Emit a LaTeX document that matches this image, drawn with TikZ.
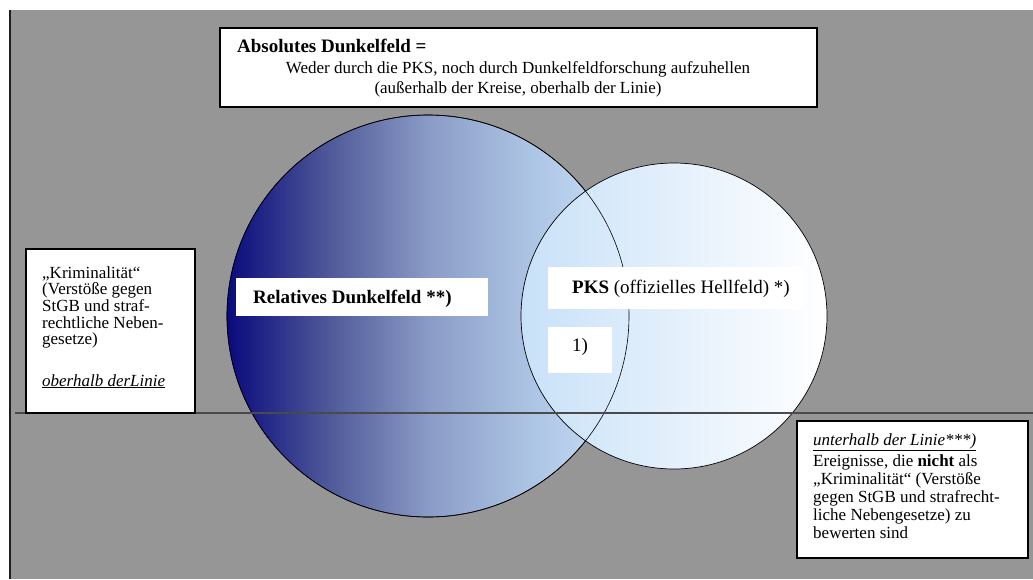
\documentclass[tikz,border=0pt]{standalone}
\usepackage{fontspec}
\setmainfont{Liberation Serif}
\definecolor{bggray}{HTML}{969696}
\definecolor{framecol}{HTML}{1E1E1E}
\definecolor{linecol}{HTML}{4A4A4A}
\definecolor{navyA}{RGB}{10,10,125}
\definecolor{navyB}{RGB}{78,88,152}
\definecolor{navyC}{RGB}{138,155,198}
\definecolor{navyD}{RGB}{172,196,228}
\definecolor{lightA}{RGB}{200,225,248}
\pgfdeclarehorizontalshading{bigshade}{100bp}{color(0bp)=(navyA); color(25bp)=(navyA); color(37.5bp)=(navyB); color(50bp)=(navyC); color(62.5bp)=(navyD); color(75bp)=(lightA); color(100bp)=(lightA)}
\tikzset{
  wbox/.style={draw=black, line width=1.2pt, fill=white, anchor=north west, inner sep=0, outer sep=0},
  lbox/.style={fill=white, anchor=north west, inner sep=0, outer sep=0},
  txt/.style={anchor=base west, inner sep=0, font=\fontsize{17}{20}\selectfont},
  ctxt/.style={anchor=base, inner sep=0, font=\fontsize{17}{20}\selectfont},
  head/.style={anchor=base west, inner sep=0, font=\fontsize{19}{22}\selectfont\bfseries},
  big/.style={anchor=base west, inner sep=0, font=\fontsize{19}{22}\selectfont},
}
\begin{document}
\begin{tikzpicture}[x=1pt,y=-1pt]
\useasboundingbox (0,0) rectangle (1033,579);
% background
\fill[white] (0,0) rectangle (1033,579);
\fill[bggray] (10,10) rectangle (1033,579);
\draw[framecol, line width=2pt] (10,10) -- (10,579);
% circles
\node[circle, draw=black, line width=0.7pt, minimum size=402pt, inner sep=0, outer sep=0, shade, shading=bigshade] (bigc) at (428,316) {};
\node[circle, draw=black, line width=0.7pt, minimum size=306pt, inner sep=0, outer sep=0, left color=lightA, right color=white] (smallc) at (674,316) {};
\draw[black, line width=0.6pt] (bigc.center) circle[radius=201pt];
% horizontal line
\coordinate (lineL) at (15,413);
\coordinate (lineR) at (1033,413);
\draw[linecol, line width=1.6pt] (lineL) -- (lineR);
% top box
\node[wbox, minimum width=597pt, minimum height=79pt] (topbox) at (220,28) {};
\node[head] (t1) at (237,52) {Absolutes Dunkelfeld =};
\node[ctxt] (t2) at (518,73) {Weder durch die PKS, noch durch Dunkelfeldforschung aufzuhellen};
\node[ctxt] (t3) at (518,93) {(außerhalb der Kreise, oberhalb der Linie)};
% left box
\node[wbox, minimum width=169pt, minimum height=164pt] (leftbox) at (26,249) {};
\node[txt] (l1) at (42,278) {„Kriminalität“};
\node[txt] (l2) at (42,294.7) {(Verstöße gegen};
\node[txt] (l3) at (42,311.4) {StGB und straf-};
\node[txt] (l4) at (42,328.1) {rechtliche Neben-};
\node[txt] (l5) at (42,344.8) {gesetze)};
\node[txt] (l6) at (42,386) {\itshape\underline{oberhalb derLinie}};
% right box
\node[wbox, minimum width=231pt, minimum height=137pt] (rightbox) at (797,421) {};
\node[txt] (r1) at (813,445) {\itshape\underline{unterhalb der Linie***)}};
\node[txt] (r2) at (813,466) {Ereignisse, die \textbf{nicht} als};
\node[txt] (r3) at (813,484) {„Kriminalität“ (Verstöße};
\node[txt] (r4) at (813,502) {gegen StGB und strafrecht-};
\node[txt] (r5) at (813,520) {liche Nebengesetze) zu};
\node[txt] (r6) at (813,538) {bewerten sind};
% label boxes
\node[lbox, minimum width=252pt, minimum height=38pt] (relbox) at (236,278) {};
\node[head] (rel) at (253,303) {Relatives Dunkelfeld **)};
\node[lbox, minimum width=255pt, minimum height=42pt] (pksbox) at (548,267) {};
\node[big] (pks) at (572,293) {\textbf{PKS} (offizielles Hellfeld) *)};
\node[lbox, minimum width=64pt, minimum height=46pt] (onebox) at (548,327) {};
\node[big] (one) at (572,351) {1)};
\end{tikzpicture}
\end{document}
